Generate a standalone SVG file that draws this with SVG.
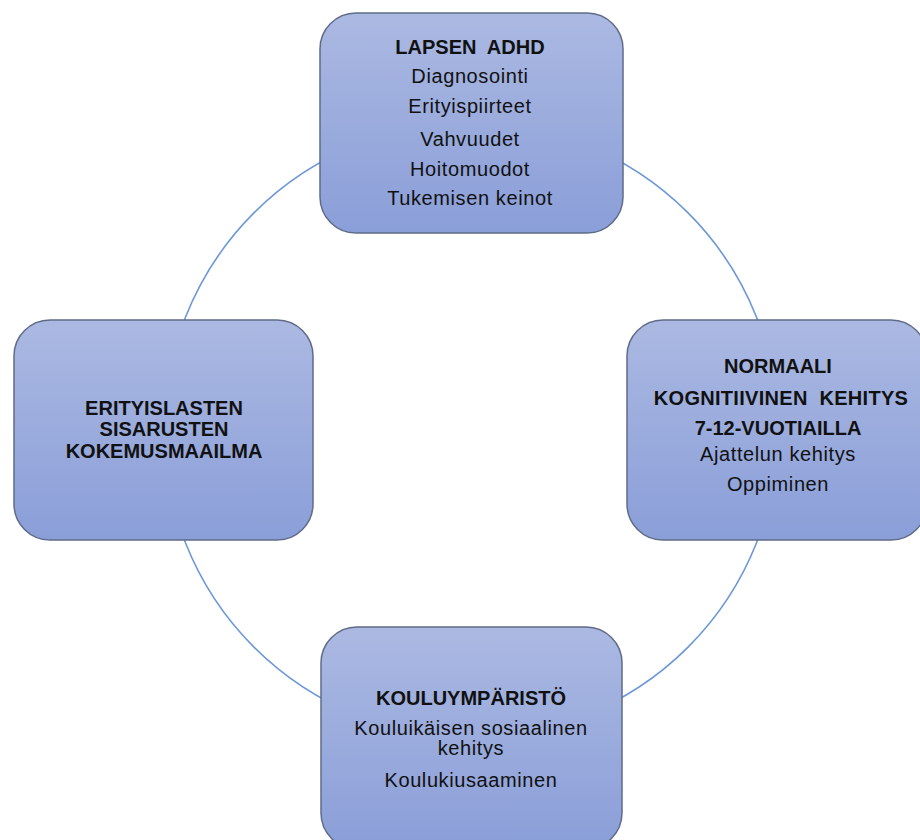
<svg xmlns="http://www.w3.org/2000/svg" width="920" height="840" viewBox="0 0 920 840">
<defs>
<linearGradient id="g" x1="0" y1="0" x2="0" y2="1">
<stop offset="0" stop-color="#abb9e2"/>
<stop offset="1" stop-color="#8a9ed8"/>
</linearGradient>
<style>
.box{fill:url(#g);stroke:#5f6b88;stroke-width:1.5}
.arc{fill:none;stroke:#6d98d8;stroke-width:1.6}
text{font-family:"Liberation Sans",Arial,sans-serif;font-size:20px;fill:#111;text-anchor:middle}
.r{letter-spacing:0.6px}
.b{font-weight:bold}
</style>
</defs>
<rect width="920" height="840" fill="#fff"/>
<g id="connectors">
<path class="arc" d="M471,123 A307,307 0 0 0 164,430"/>
<path class="arc" d="M471,123 A307,307 0 0 1 778,430"/>
<path class="arc" d="M164,430 A307,307 0 0 0 471,737"/>
<path class="arc" d="M778,430 A307,307 0 0 1 471,737"/>
</g>
<g id="top">
<rect class="box" x="320" y="13" width="303" height="220" rx="36"/>
<text class="b" x="470" y="54">LAPSEN&#160; ADHD</text>
<text class="r" x="470" y="83">Diagnosointi</text>
<text class="r" x="470" y="113">Erityispiirteet</text>
<text class="r" x="470" y="146">Vahvuudet</text>
<text class="r" x="470" y="176">Hoitomuodot</text>
<text class="r" x="470" y="205">Tukemisen keinot</text>
</g>
<g id="right">
<rect class="box" x="627" y="320" width="300" height="220" rx="36"/>
<text class="b" x="778" y="373">NORMAALI</text>
<text class="b" x="781" y="405" letter-spacing="0.3">KOGNITIIVINEN&#160; KEHITYS</text>
<text class="b" x="778" y="435">7-12-VUOTIAILLA</text>
<text class="r" x="778" y="461">Ajattelun kehitys</text>
<text class="r" x="778" y="491">Oppiminen</text>
</g>
<g id="left">
<rect class="box" x="14" y="320" width="299" height="220" rx="36"/>
<text class="b" x="164" y="415">ERITYISLASTEN</text>
<text class="b" x="164" y="436">SISARUSTEN</text>
<text class="b" x="164" y="458">KOKEMUSMAAILMA</text>
</g>
<g id="bottom">
<rect class="box" x="321" y="627" width="301" height="222" rx="36"/>
<text class="b" x="471" y="705">KOULUYMPÄRISTÖ</text>
<text class="r" x="471" y="735">Kouluikäisen sosiaalinen</text>
<text class="r" x="471" y="755">kehitys</text>
<text class="r" x="471" y="787">Koulukiusaaminen</text>
</g>
</svg>
